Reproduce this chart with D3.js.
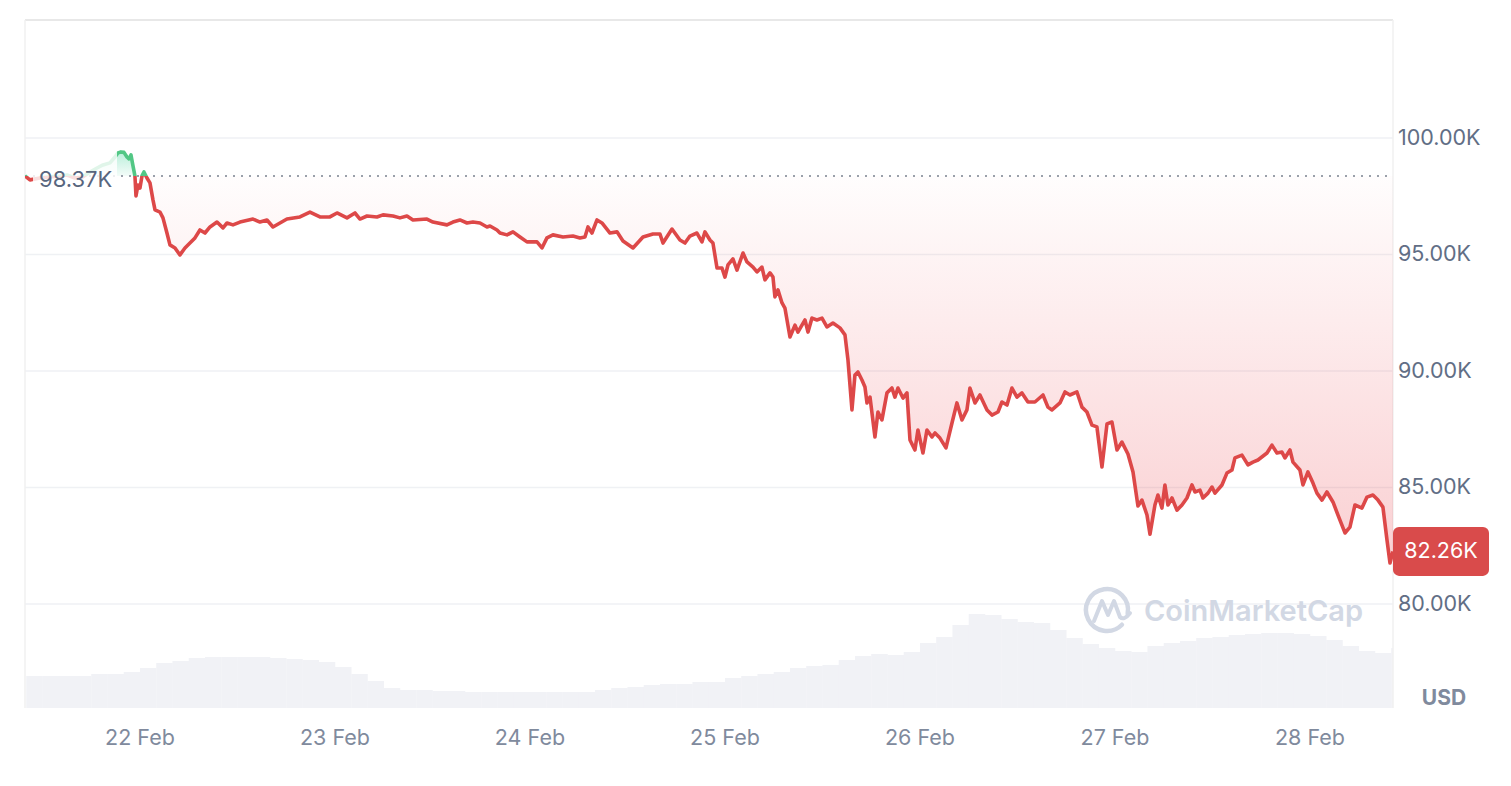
<!DOCTYPE html>
<html>
<head>
<meta charset="utf-8">
<script src="https://cdn.jsdelivr.net/npm/d3@7"></script>
<style>
  html, body { margin: 0; padding: 0; background: #fff; }
  svg { display: block; font-family: Inter, "Noto Sans", sans-serif; }
</style>
</head>
<body>
<svg id="chart" width="1511" height="786"></svg>
<script>
// ---- DATA ----
// hours relative to 22 Feb 2025 00:00 UTC
const hours = [-14.15,-13.54,-12.31,-11.08,-9.85,-8.98,-8.00,-7.02,-6.15,-5.29,-4.55,-3.69,-3.08,-2.71,-2.34,-1.97,-1.60,-1.35,-1.11,-0.86,-0.62,-0.49,-0.25,0,0.25,0.49,0.86,1.23,1.60,1.85,2.46,2.83,3.32,3.69,4.31,4.92,5.54,6.15,6.77,7.38,8.00,8.62,9.48,10.22,10.71,11.45,12.31,13.91,14.77,15.63,16.37,17.23,18.09,19.69,20.92,22.15,23.38,24.25,25.48,26.46,27.08,27.94,29.17,29.91,31.14,32.00,32.86,33.60,35.32,36.06,37.78,38.52,39.38,40.25,40.98,41.85,42.71,43.08,43.94,44.31,45.17,45.91,46.77,47.63,48.86,49.48,50.09,50.83,52.06,53.29,54.15,54.77,55.14,55.63,56.25,56.86,57.85,58.71,59.45,60.68,61.91,63.14,64.00,64.37,65.48,66.46,67.08,67.69,68.55,69.17,69.54,70.15,70.52,71.02,71.63,72.00,72.37,72.98,73.48,74.22,74.71,75.45,75.94,76.55,76.92,77.54,77.91,78.15,78.52,79.02,79.38,80.00,80.62,80.98,81.85,82.22,82.71,83.32,83.94,84.55,85.29,86.15,86.77,87.14,87.63,88.00,88.37,88.86,89.23,89.48,89.85,90.46,90.83,91.32,91.94,92.55,92.92,93.29,93.91,94.40,94.77,95.38,95.75,96.37,96.86,97.48,97.85,98.46,99.20,99.94,100.55,101.17,101.78,102.15,102.77,103.38,104.25,104.86,105.60,106.09,106.71,107.32,107.94,108.55,109.29,110.15,111.14,111.75,112.25,113.23,113.85,114.46,115.32,115.94,116.55,117.17,117.78,118.40,119.02,119.63,120.25,120.86,121.60,122.22,122.83,123.32,123.94,124.31,124.92,125.29,125.78,126.15,126.52,127.02,127.63,128.25,128.86,129.48,129.85,130.46,130.83,131.45,131.94,132.31,133.17,133.78,134.40,134.77,135.63,136.37,136.98,137.60,138.71,139.32,139.94,140.55,140.92,141.54,141.91,142.77,143.14,143.75,144.37,144.86,145.48,146.09,146.83,147.45,148.31,148.92,149.54,150.40,151.02,151.75,152.37,152.98,153.48,153.85,154.22];
// BTC price in thousands USD
const prices = [98.37,98.20,98.28,98.33,98.37,98.41,98.28,98.33,98.54,98.71,98.84,98.93,99.18,99.36,99.40,99.38,99.18,99.10,99.27,98.80,98.37,97.51,97.98,97.85,98.37,98.54,98.28,98.07,97.34,96.91,96.82,96.57,95.92,95.41,95.28,94.98,95.28,95.49,95.71,96.05,95.92,96.18,96.39,96.14,96.35,96.27,96.39,96.52,96.39,96.48,96.18,96.35,96.52,96.61,96.82,96.61,96.61,96.78,96.57,96.78,96.52,96.65,96.61,96.70,96.65,96.57,96.65,96.48,96.52,96.39,96.27,96.39,96.48,96.35,96.39,96.35,96.18,96.22,96.05,95.92,95.84,95.97,95.75,95.54,95.54,95.28,95.71,95.84,95.75,95.79,95.71,95.75,96.18,95.92,96.48,96.35,95.92,95.97,95.58,95.28,95.75,95.88,95.88,95.49,96.09,95.62,95.49,95.79,95.92,95.54,95.97,95.62,95.49,94.42,94.42,94.03,94.55,94.81,94.33,95.06,94.68,94.46,94.25,94.46,93.91,94.21,94.03,93.18,93.48,92.92,92.70,91.46,91.97,91.67,92.19,91.67,92.27,92.19,92.27,91.89,92.06,91.85,91.55,90.47,88.33,89.83,89.96,89.61,89.31,88.63,88.88,87.17,88.24,87.90,89.06,89.27,88.88,89.27,88.84,89.06,87.04,86.61,87.47,86.48,87.47,87.17,87.34,87.12,86.70,87.77,88.63,87.90,88.33,89.27,88.63,88.97,88.33,88.11,88.24,88.67,88.54,89.27,88.88,89.06,88.67,88.67,88.97,88.45,88.33,88.63,89.10,88.97,89.10,88.45,88.24,87.68,87.60,85.88,87.73,87.81,86.61,86.95,86.44,85.67,84.21,84.46,83.82,83.00,84.25,84.68,84.12,85.11,84.25,84.55,84.03,84.25,84.55,85.11,84.81,84.89,84.55,84.76,85.02,84.76,85.11,85.62,85.75,86.27,86.39,85.97,86.09,86.18,86.48,86.82,86.48,86.52,86.27,86.61,86.09,85.75,85.11,85.67,85.19,84.76,84.46,84.81,84.38,83.82,83.05,83.30,84.25,84.12,84.59,84.68,84.46,84.16,82.75,81.76,82.26];
// volume per 2-hour bin (billion USD), bins starting at hour -14
const volumeStartHour = -14;
const volumeBinHours = 2;
const volumes = [21.6,21.6,21.6,21.6,23.0,23.0,24.3,27.0,30.4,31.8,33.8,34.5,34.5,34.5,34.5,33.8,33.1,32.4,31.1,27.7,23.0,18.2,13.5,12.2,12.2,11.5,11.5,10.8,10.8,10.8,10.8,10.8,10.8,10.8,10.8,12.2,13.5,14.2,15.5,16.2,16.2,17.6,17.6,20.3,21.6,23.0,24.3,27.0,28.4,29.1,32.4,35.1,36.5,35.8,37.8,43.9,48.0,56.1,63.5,62.8,60.1,58.1,57.4,52.7,47.3,43.2,40.5,38.5,37.8,41.9,43.9,45.3,47.3,48.0,49.3,50.0,50.7,50.7,50.0,48.6,45.9,41.9,38.5,37.2,40.5];
const baselinePrice = 98.37;
const lastPrice = 82.26;
const yTicks = [80, 85, 90, 95, 100];
const currency = "USD";

// ---- LAYOUT ----
const L = 25, R = 1393, T = 20, B = 708;
const red = "#dd4848", green = "#52c785";
const base = Date.UTC(2025, 1, 22, 0, 0);
const toDate = h => new Date(base + h * 3600000);
const data = hours.map((h, i) => ({ t: toDate(h), v: prices[i] }));

const svg = d3.select("#chart");
const x = d3.scaleUtc().domain([toDate(hours[0]), toDate(hours[hours.length - 1])]).range([L, R]);
const y = d3.scaleLinear().domain([75.54, 105.06]).range([B, T]);
const yv = d3.scaleLinear().domain([0, 100]).range([B, 560]);
const yb = y(baselinePrice);

const defs = svg.append("defs");
defs.append("clipPath").attr("id", "plot").append("rect").attr("x", L).attr("y", T).attr("width", R - L).attr("height", B - T);
defs.append("clipPath").attr("id", "below").append("rect").attr("x", L).attr("y", yb).attr("width", R - L).attr("height", B - yb);
defs.append("clipPath").attr("id", "above").append("rect").attr("x", L).attr("y", T).attr("width", R - L).attr("height", yb - T);
const gr = defs.append("linearGradient").attr("id", "gRed").attr("gradientUnits", "userSpaceOnUse")
  .attr("x1", 0).attr("x2", 0).attr("y1", yb).attr("y2", y(d3.min(prices)));
gr.append("stop").attr("offset", 0).attr("stop-color", "#ea3943").attr("stop-opacity", 0.01);
gr.append("stop").attr("offset", 1).attr("stop-color", "#ea3943").attr("stop-opacity", 0.24);
const gg = defs.append("linearGradient").attr("id", "gGreen").attr("gradientUnits", "userSpaceOnUse")
  .attr("x1", 0).attr("x2", 0).attr("y1", yb).attr("y2", y(d3.max(prices)));
gg.append("stop").attr("offset", 0).attr("stop-color", "#16c784").attr("stop-opacity", 0.05);
gg.append("stop").attr("offset", 1).attr("stop-color", "#16c784").attr("stop-opacity", 0.3);

// grid
svg.append("g").selectAll("line").data(yTicks).join("line")
  .attr("x1", L).attr("x2", R).attr("y1", d => y(d)).attr("y2", d => y(d))
  .attr("stroke", "#eff1f4").attr("stroke-width", 1.5);

// volume bars
const vBins = volumes.map((v, i) => ({ t0: toDate(volumeStartHour + i * volumeBinHours), t1: toDate(volumeStartHour + (i + 1) * volumeBinHours), v }));
svg.append("g").attr("clip-path", "url(#plot)").selectAll("rect").data(vBins).join("rect")
  .attr("x", d => x(d.t0)).attr("width", d => x(d.t1) - x(d.t0) + 0.3)
  .attr("y", d => yv(d.v)).attr("height", d => B - yv(d.v))
  .attr("fill", "#f1f2f6");

// watermark
const wm = svg.append("g").attr("fill", "none").attr("stroke", "#d2d8e4").attr("stroke-width", 4).attr("stroke-linecap", "round").attr("stroke-linejoin", "round");
wm.append("path").attr("transform", "translate(1107,610)")
  .attr("d", d3.arc().innerRadius(21).outerRadius(21).startAngle(2.35).endAngle(1.75 + 2 * Math.PI)())
  .attr("stroke-width", 4.5);
wm.append("path").attr("d", "M1094,621 L1102,601 L1108,615 L1114,601 L1120,617 Q1124,621 1130,613");
svg.append("text").attr("x", 1144).attr("y", 621).text("CoinMarketCap")
  .attr("font-size", 29).attr("font-weight", 600).attr("fill", "#d2d8e4");

// borders
svg.append("line").attr("x1", L).attr("x2", R).attr("y1", T).attr("y2", T).attr("stroke", "#e8e8e8").attr("stroke-width", 2);
svg.append("line").attr("x1", L).attr("x2", L).attr("y1", T).attr("y2", B).attr("stroke", "#f0f0f0").attr("stroke-width", 1.5);
svg.append("line").attr("x1", R).attr("x2", R).attr("y1", T).attr("y2", B).attr("stroke", "#f0f0f0").attr("stroke-width", 1.5);

// area fills
const area = d3.area().x(d => x(d.t)).y0(yb).y1(d => y(d.v));
svg.append("path").datum(data).attr("d", area).attr("fill", "url(#gRed)").attr("clip-path", "url(#below)");
svg.append("path").datum(data).attr("d", area).attr("fill", "url(#gGreen)").attr("clip-path", "url(#above)");

// baseline dotted
svg.append("line").attr("x1", L).attr("x2", R).attr("y1", yb).attr("y2", yb)
  .attr("stroke", "#9aa0aa").attr("stroke-width", 2).attr("stroke-dasharray", "2,6");

// lines
const line = d3.line().x(d => x(d.t)).y(d => y(d.v));
svg.append("path").datum(data).attr("d", line).attr("fill", "none").attr("stroke", red).attr("stroke-width", 3.6).attr("stroke-linejoin", "round").attr("clip-path", "url(#below)");
svg.append("path").datum(data).attr("d", line).attr("fill", "none").attr("stroke", green).attr("stroke-width", 3.6).attr("stroke-linejoin", "round").attr("clip-path", "url(#above)");

// baseline label
svg.append("rect").attr("x", 33).attr("y", yb - 26).attr("width", 84).attr("height", 52).attr("fill", "#fff").attr("fill-opacity", 0.82);
svg.append("text").attr("x", 39).attr("y", yb + 5).attr("dominant-baseline", "middle")
  .attr("font-size", 22).attr("fill", "#58667e").text(d3.format(".2f")(baselinePrice) + "K");

// y axis labels
svg.append("g").selectAll("text").data(yTicks).join("text")
  .attr("x", 1398).attr("y", d => y(d) + 1).attr("dominant-baseline", "middle")
  .attr("font-size", 21.5).attr("fill", "#616e85").text(d => d3.format(".2f")(d) + "K");

// x axis labels
const xTicks = x.ticks(d3.utcDay.every(1)).filter(d => x(d) > L + 20);
svg.append("g").selectAll("text").data(xTicks).join("text")
  .attr("x", d => x(d)).attr("y", 739).attr("text-anchor", "middle").attr("dominant-baseline", "middle")
  .attr("font-size", 21.5).attr("fill", "#808a9d").text(d3.utcFormat("%-d %b"));

// currency
svg.append("text").attr("x", 1444).attr("y", 699).attr("text-anchor", "middle").attr("dominant-baseline", "middle")
  .attr("font-size", 21).attr("font-weight", 700).attr("fill", "#808a9d").text(currency);

// last price tag
const ly = y(lastPrice);
svg.append("rect").attr("x", R).attr("y", ly - 24.5).attr("width", 96).attr("height", 49).attr("rx", 6).attr("fill", "#d94b4b");
svg.append("text").attr("x", R + 48).attr("y", ly + 1).attr("text-anchor", "middle").attr("dominant-baseline", "middle")
  .attr("font-size", 21.5).attr("fill", "#fff").text(d3.format(".2f")(lastPrice) + "K");
</script>
</body>
</html>
